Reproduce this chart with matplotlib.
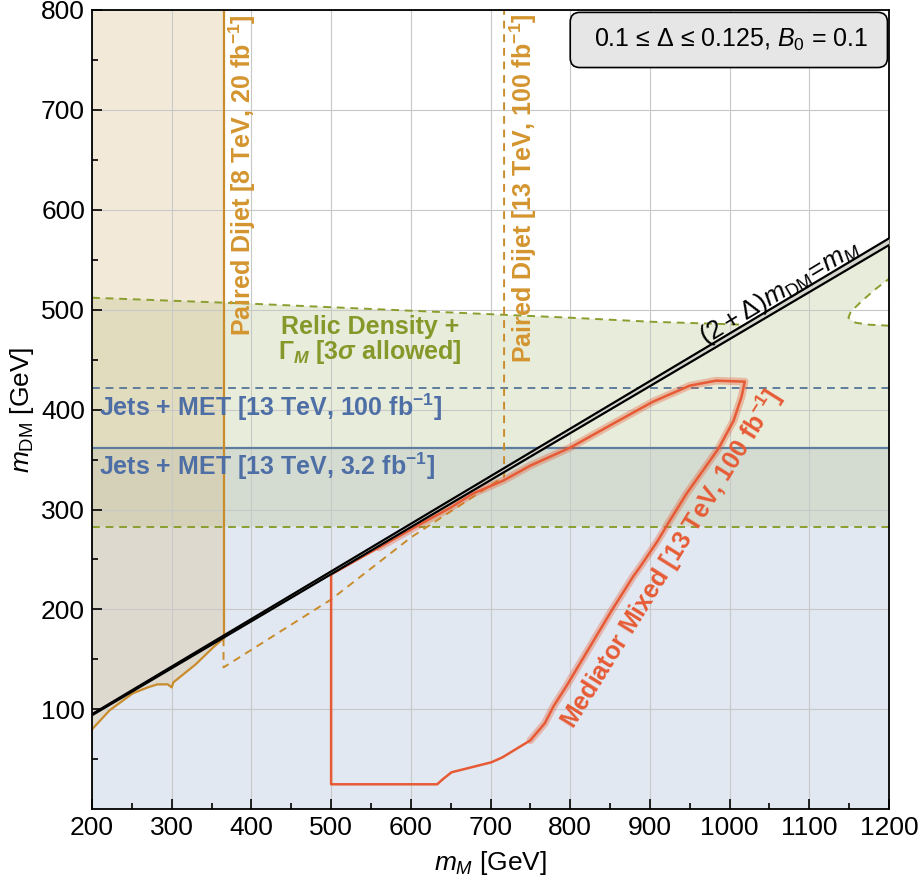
import numpy as np
import matplotlib.pyplot as plt
from matplotlib.patches import FancyBboxPatch

plt.rcParams['font.family'] = ['Liberation Sans', 'DejaVu Sans']
plt.rcParams['mathtext.fontset'] = 'custom'
plt.rcParams['mathtext.rm'] = 'Liberation Sans'
plt.rcParams['mathtext.it'] = 'Liberation Sans:italic'
plt.rcParams['mathtext.bf'] = 'Liberation Sans:bold'
plt.rcParams['mathtext.bfit'] = 'Liberation Sans:bold:italic'

# --- data ---
delta_lo, delta_hi = 0.1, 0.125
mM_min, mM_max = 200, 1200

# paired dijet, 8 TeV 20 fb^-1 (excluded left of the line, above the curve)
dijet8_x = 365
dijet8_curve_x = [200, 222, 251, 270, 282, 295, 300, 302, 330, 352, 365]
dijet8_curve_y = [80, 99, 116, 122, 125, 125, 122, 127, 145, 162, 171]

# paired dijet, 13 TeV 100 fb^-1 projection (dashed)
dijet13_x = [365, 365, 500, 600, 717, 717]
dijet13_y = [171, 142, 210, 272, 333, 800]

# jets + MET
jets_met_32 = 362
jets_met_100 = 422

# relic density + Gamma_M, 3 sigma allowed band
relic_lo = 283
relic_hi_x = [200, 400, 600, 800, 900, 1018]
relic_hi_y = [512, 506, 499, 492, 488, 485]
relic_loop_x = [1200, 1175, 1158, 1149, 1152, 1165, 1182, 1200]
relic_loop_y = [484, 485, 487, 492, 498, 508, 520, 531]

# mediator mixed, 13 TeV 100 fb^-1
med_x = [500, 560, 611, 650, 678, 716, 750, 800, 854, 888, 904, 950, 983, 1019,
         1015, 1005, 986, 946, 925, 910, 888, 879, 852, 825, 795, 779, 768,
         750, 715, 701, 651, 640, 633, 500, 500]
med_y = [235, 262, 285, 302, 316, 329, 344, 362, 386, 401, 408, 424, 429, 428,
         413, 389, 361, 316, 289, 269, 243, 233, 199, 163, 123, 103, 86,
         69, 52, 47, 37, 30, 25, 25, 235]

# colours
c_blue_fill = '#b7c6dd'
c_green_fill = '#b6c38a'
c_tan_fill = '#d7b980'
c_gold = '#c98c2c'
c_gold_txt = '#d4952f'
c_blue_line = '#5f7d9c'
c_blue_txt = '#4e6ea6'
c_green_line = '#8a9e2e'
c_green_txt = '#86982a'
c_red = '#e65b35'

fig = plt.figure(figsize=(9.23, 8.83), dpi=100)
ax = fig.add_axes([0.0997, 0.0835, 0.8635, 0.9052])
ax.set_xlim(mM_min, mM_max)
ax.set_ylim(0, 800)

# fills
ax.fill_between([mM_min, mM_max], 0, jets_met_32, color=c_blue_fill, alpha=0.4, lw=0, zorder=1)

xs_diag = np.array([relic_hi_x[-1], mM_max])
gx = ([mM_min, mM_max] + relic_loop_x + [mM_max] + list(xs_diag[::-1]) + relic_hi_x[::-1])
gy = ([relic_lo, relic_lo] + relic_loop_y + [mM_max / (2 + delta_lo)]
      + list(xs_diag[::-1] / (2 + delta_lo)) + relic_hi_y[::-1])
ax.fill(gx, gy, color=c_green_fill, alpha=0.3, lw=0, zorder=1)

tx = dijet8_curve_x + [dijet8_x, mM_min]
ty = dijet8_curve_y + [800, 800]
ax.fill(tx, ty, color=c_tan_fill, alpha=0.3, lw=0, zorder=1)

ax.grid(True, color='#c8c8c8', lw=0.8)
ax.set_axisbelow('line')

# relic density boundaries
ax.plot([mM_min, mM_max], [relic_lo, relic_lo], color=c_green_line, ls=(0, (4, 3)), lw=1.4, zorder=2)
ax.plot(relic_hi_x, relic_hi_y, color=c_green_line, ls=(0, (4, 3)), lw=1.4, zorder=2)
ax.plot(relic_loop_x, relic_loop_y, color=c_green_line, ls=(0, (4, 3)), lw=1.4, zorder=2)

# jets + MET
ax.axhline(jets_met_32, color=c_blue_line, lw=1.6, zorder=2)
ax.axhline(jets_met_100, color=c_blue_line, lw=1.4, ls=(0, (4, 3)), zorder=2)

# paired dijet
ax.plot([dijet8_x, dijet8_x], [dijet8_curve_y[-1], 800], color=c_gold, lw=1.6, zorder=2)
ax.plot(dijet8_curve_x, dijet8_curve_y, color=c_gold, lw=1.6, zorder=2)
ax.plot(dijet13_x, dijet13_y, color=c_gold, lw=1.4, ls=(0, (4, 3)), zorder=2)

# mediator mixed
ax.plot(med_x[1:28], med_y[1:28], color=c_red, lw=5.5, alpha=0.35, solid_capstyle='round', zorder=2.5)
ax.plot(med_x, med_y, color=c_red, lw=1.8, zorder=2.6)

# kinematic line (2+Delta) m_DM = m_M
xd = np.array([mM_min, mM_max])
ax.fill_between(xd, xd / (2 + delta_hi), xd / (2 + delta_lo), color='#d6d6cf', lw=0, zorder=3)
ax.plot(xd, xd / (2 + delta_lo), color='black', lw=1.6, zorder=3)
ax.plot(xd, xd / (2 + delta_hi), color='black', lw=1.6, zorder=3)

# labels inside the plot
fs_lab = 18
ax.text(389, 796, r'Paired Dijet [8 TeV, 20 fb$^{\mathbf{-1}}$]', rotation=90, ha='center', va='top',
        color=c_gold_txt, fontsize=fs_lab, fontweight='bold', zorder=4)
ax.text(741, 796, r'Paired Dijet [13 TeV, 100 fb$^{\mathbf{-1}}$]', rotation=90, ha='center', va='top',
        color=c_gold_txt, fontsize=fs_lab, fontweight='bold', zorder=4)
ax.text(549, 469, 'Relic Density +\n' + r'$\mathbf{\Gamma}_\mathbfit{M}$ [3$\mathbfit{\sigma}$ allowed]',
        ha='center', va='center', color=c_green_txt, fontsize=fs_lab, fontweight='bold',
        linespacing=0.95, zorder=4)
ax.text(209, 402, r'Jets + MET [13 TeV, 100 fb$^{\mathbf{-1}}$]', ha='left', va='center',
        color=c_blue_txt, fontsize=fs_lab, fontweight='bold', zorder=4)
ax.text(209, 343, r'Jets + MET [13 TeV, 3.2 fb$^{\mathbf{-1}}$]', ha='left', va='center',
        color=c_blue_txt, fontsize=fs_lab, fontweight='bold', zorder=4)
ax.text(926, 251, r'Mediator Mixed [13 TeV, 100 fb$^{\mathbf{-1}}$]', rotation=58,
        rotation_mode='anchor', ha='center', va='center', color=c_red, fontsize=fs_lab,
        fontweight='bold', zorder=4)
ax.text(1063, 518, r'$(2+\Delta)m_\mathrm{DM}\!=\!m_M$', rotation=31, rotation_mode='anchor',
        ha='center', va='center', fontsize=19, zorder=4)

# box
box = FancyBboxPatch((0.600, 0.928), 0.398, 0.069, boxstyle='round,pad=0,rounding_size=0.012',
                     transform=ax.transAxes, facecolor='#e6e6e6', edgecolor='black', lw=1.2,
                     zorder=5, clip_on=False)
ax.add_patch(box)
ax.text(0.802, 0.962, r'0.1 ≤ Δ ≤ 0.125, $B_0$ = 0.1', transform=ax.transAxes,
        ha='center', va='center', fontsize=18, zorder=6)

# axes
ax.set_xticks(np.arange(200, 1201, 100))
ax.set_xticks(np.arange(250, 1200, 100), minor=True)
ax.set_yticks(np.arange(100, 801, 100))
ax.set_yticks(np.arange(50, 800, 100), minor=True)
ax.tick_params(which='both', direction='in', top=False, right=False, labelsize=19, width=1.2)
ax.tick_params(which='major', length=7, pad=5)
ax.tick_params(which='minor', length=4)
ax.grid(False, which='minor')
for s in ax.spines.values():
    s.set_linewidth(1.3)
ax.set_xlabel(r'$m_M$ [GeV]', fontsize=19, labelpad=6)
ax.set_ylabel(r'$m_\mathrm{DM}$ [GeV]', fontsize=19, labelpad=4)

fig.savefig('out.png', dpi=100)
